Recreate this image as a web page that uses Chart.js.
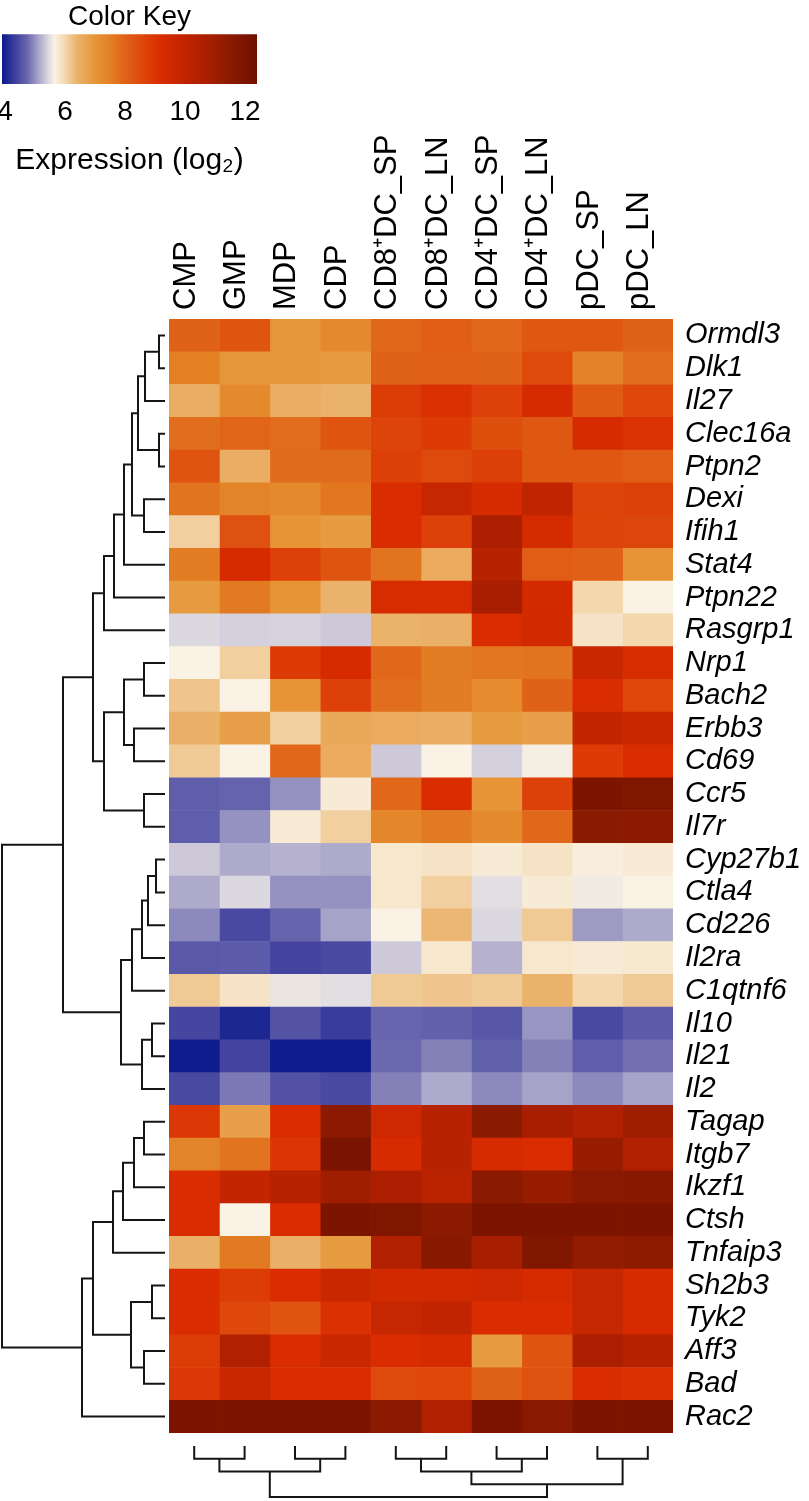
<!DOCTYPE html>
<html>
<head>
<meta charset="utf-8">
<script src="https://cdn.jsdelivr.net/npm/chart.js@4.4.1/dist/chart.umd.min.js"></script>
<style>
  body { margin: 0; background: #fff; }
  #wrap { position: relative; width: 809px; height: 1501px; overflow: hidden; }
  canvas { position: absolute; }
</style>
</head>
<body>
<div id="wrap">
  <canvas id="heat" width="809" height="1501" style="left:0;top:0"></canvas>
  <canvas id="rowTree" width="170" height="1134" style="left:0;top:309px"></canvas>
  <canvas id="colTree" width="520" height="61" style="left:161px;top:1440px"></canvas>
  <canvas id="key" width="300" height="185" style="left:0;top:0"></canvas>
</div>
<script>
// ---- data ----
var columns = ['CMP', 'GMP', 'MDP', 'CDP', 'CD8\u207ADC_SP', 'CD8\u207ADC_LN',
  'CD4\u207ADC_SP', 'CD4\u207ADC_LN', 'pDC_SP', 'pDC_LN'];

var genes = ['Ormdl3', 'Dlk1', 'Il27', 'Clec16a', 'Ptpn2', 'Dexi', 'Ifih1', 'Stat4',
  'Ptpn22', 'Rasgrp1', 'Nrp1', 'Bach2', 'Erbb3', 'Cd69', 'Ccr5', 'Il7r', 'Cyp27b1',
  'Ctla4', 'Cd226', 'Il2ra', 'C1qtnf6', 'Il10', 'Il21', 'Il2', 'Tagap', 'Itgb7',
  'Ikzf1', 'Ctsh', 'Tnfaip3', 'Sh2b3', 'Tyk2', 'Aff3', 'Bad', 'Rac2'];

// log2 expression, one row per gene, in column order
var expression = [
  [8.0, 8.3, 7.0, 7.3, 7.9, 8.1, 7.9, 8.2, 8.2, 8.0],
  [7.5, 7.0, 7.0, 6.9, 8.0, 8.05, 8.0, 8.5, 7.45, 7.8],
  [6.5, 7.3, 6.5, 6.4, 8.8, 9.1, 8.7, 9.3, 8.15, 8.55],
  [7.8, 7.95, 7.8, 8.3, 8.65, 8.85, 8.4, 8.2, 9.3, 9.05],
  [8.3, 6.5, 7.85, 7.85, 8.75, 8.5, 8.75, 8.2, 8.2, 8.1],
  [7.7, 7.4, 7.3, 7.65, 9.2, 9.8, 9.3, 10.0, 8.65, 8.7],
  [6.1, 8.35, 7.05, 6.9, 9.2, 8.7, 10.7, 9.35, 8.65, 8.6],
  [7.55, 9.3, 8.7, 8.3, 7.7, 6.55, 10.3, 8.1, 8.05, 7.05],
  [6.9, 7.6, 7.05, 6.4, 9.25, 9.25, 10.8, 9.4, 6.0, 5.65],
  [5.45, 5.4, 5.42, 5.35, 6.4, 6.45, 9.2, 9.45, 5.85, 6.0],
  [5.65, 6.1, 8.85, 9.3, 7.9, 7.55, 7.65, 7.7, 9.7, 9.25],
  [6.2, 5.65, 7.05, 8.7, 7.8, 7.55, 7.25, 8.0, 9.2, 8.55],
  [6.45, 6.8, 6.1, 6.6, 6.55, 6.5, 6.9, 6.8, 9.9, 9.7],
  [6.15, 5.65, 7.9, 6.55, 5.35, 5.65, 5.4, 5.62, 8.85, 9.2],
  [4.65, 4.7, 5.0, 5.75, 7.9, 9.2, 7.05, 8.7, 12.0, 11.9],
  [4.65, 5.0, 5.75, 6.1, 7.35, 7.6, 7.3, 7.9, 11.5, 11.45],
  [5.35, 5.15, 5.2, 5.15, 5.8, 5.85, 5.75, 5.85, 5.7, 5.75],
  [5.15, 5.45, 5.0, 5.0, 5.8, 6.1, 5.5, 5.75, 5.6, 5.65],
  [4.95, 4.45, 4.7, 5.1, 5.65, 6.35, 5.45, 6.15, 5.05, 5.15],
  [4.6, 4.62, 4.4, 4.45, 5.35, 5.8, 5.2, 5.8, 5.75, 5.78],
  [6.15, 5.85, 5.55, 5.5, 6.15, 6.2, 6.15, 6.4, 6.0, 6.15],
  [4.42, 4.05, 4.55, 4.3, 4.72, 4.68, 4.58, 5.02, 4.45, 4.62],
  [3.92, 4.4, 3.92, 3.92, 4.75, 4.9, 4.68, 4.9, 4.65, 4.8],
  [4.45, 4.85, 4.52, 4.45, 4.9, 5.15, 4.95, 5.1, 4.95, 5.1],
  [8.95, 6.8, 9.2, 11.45, 9.55, 10.3, 11.5, 10.8, 10.5, 11.0],
  [7.4, 7.7, 9.0, 12.05, 9.3, 10.3, 9.3, 9.2, 11.2, 10.5],
  [9.2, 9.9, 10.3, 11.0, 10.7, 10.2, 11.5, 11.2, 11.55, 11.6],
  [9.2, 5.65, 9.2, 12.0, 11.9, 11.45, 12.0, 12.0, 12.0, 12.0],
  [6.45, 7.6, 6.45, 6.9, 10.5, 11.6, 10.8, 11.8, 11.3, 11.4],
  [9.2, 8.8, 9.2, 9.7, 9.45, 9.45, 9.55, 9.3, 9.8, 9.3],
  [9.2, 8.55, 8.3, 9.1, 9.8, 10.0, 9.2, 9.2, 9.8, 9.3],
  [8.8, 10.5, 9.2, 9.7, 9.2, 9.3, 6.9, 8.3, 10.7, 10.3],
  [8.95, 9.7, 9.2, 9.2, 8.5, 8.55, 8.0, 8.35, 9.2, 9.1],
  [12.0, 12.0, 12.0, 12.0, 11.45, 10.5, 12.0, 11.55, 12.0, 12.0]
];

// hclust style merges: negative = leaf (1-based), positive = earlier merge; last = height
var rowMerges = [
  [-1, -2, 6], [1, -3, 20], [-4, -5, 6], [2, 3, 27], [-6, -7, 21], [4, 5, 33],
  [6, -8, 41], [7, -9, 51], [8, -10, 61], [-11, -12, 21], [-13, -14, 31], [10, 11, 41],
  [-15, -16, 21], [12, 13, 61], [9, 14, 72], [-17, -18, 9], [16, -19, 17], [17, -20, 23],
  [18, -21, 33], [-22, -23, 13], [20, -24, 23], [19, 21, 44], [15, 22, 102],
  [-25, -26, 21], [24, -27, 31], [25, -28, 42], [26, -29, 52], [-30, -31, 13],
  [-32, -33, 21], [28, 29, 34], [27, 30, 72], [31, -34, 83], [23, 32, 163]
];
var colMerges = [
  [-1, -2, 1], [-3, -4, 1], [1, 2, 2], [-5, -6, 1], [-7, -8, 1], [4, 5, 2],
  [-9, -10, 1], [6, 7, 3], [3, 8, 4]
];

var keyMin = 3.9, keyMax = 12.4;
var keyTicks = [4, 6, 8, 10, 12];

// ---- colour scale ----
var FONT = "'Liberation Sans', Arial, Helvetica, sans-serif";
var palette = [
  [3.9, [12, 26, 140]], [4.4, [68, 68, 160]], [4.75, [106, 104, 174]],
  [5.1, [166, 162, 200]], [5.45, [220, 216, 224]], [5.65, [250, 242, 228]],
  [6.0, [243, 216, 174]], [6.4, [235, 178, 108]], [7.0, [230, 150, 56]],
  [7.5, [227, 128, 36]], [8.0, [224, 98, 24]], [8.5, [222, 74, 12]],
  [9.2, [217, 44, 0]], [10.0, [192, 36, 0]], [10.8, [168, 30, 0]],
  [11.5, [138, 26, 0]], [12.4, [112, 16, 0]]
];
function colorFor(v) {
  if (v <= palette[0][0]) return 'rgb(' + palette[0][1].join(',') + ')';
  for (var i = 1; i < palette.length; i++) {
    if (v <= palette[i][0]) {
      var a = palette[i - 1], b = palette[i];
      var t = (v - a[0]) / (b[0] - a[0]);
      var c = a[1].map(function (x, k) { return Math.round(x + (b[1][k] - x) * t); });
      return 'rgb(' + c.join(',') + ')';
    }
  }
  return 'rgb(' + palette[palette.length - 1][1].join(',') + ')';
}

Chart.defaults.font.family = FONT;
Chart.defaults.color = '#000';
Chart.defaults.animation = false;
Chart.defaults.events = [];
Chart.defaults.plugins.legend.display = false;
Chart.defaults.plugins.tooltip.enabled = false;

// ---- heatmap ----
var heatSets = columns.map(function (col, c) {
  return {
    data: genes.map(function () { return [c, c + 1]; }),
    backgroundColor: genes.map(function (g, r) { return colorFor(expression[r][c]); }),
    borderWidth: 0,
    grouped: false,
    barPercentage: 1,
    categoryPercentage: 1
  };
});

new Chart(document.getElementById('heat'), {
  type: 'bar',
  data: { labels: genes, datasets: heatSets },
  options: {
    responsive: false,
    devicePixelRatio: 1,
    indexAxis: 'y',
    layout: { padding: { left: 169, top: 0, right: 0, bottom: 68 } },
    scales: {
      x: {
        type: 'linear', position: 'top', min: 0, max: columns.length,
        grid: { display: false, drawTicks: false }, border: { display: false },
        afterBuildTicks: function (s) {
          s.ticks = columns.map(function (_, i) { return { value: i + 0.5 }; });
        },
        afterFit: function (s) { s.height = 319; },
        ticks: {
          autoSkip: false, minRotation: 90, maxRotation: 90, padding: 9, labelOffset: 29,
          font: { size: 31 },
          callback: function (v) { return columns[Math.floor(v)]; }
        }
      },
      y: {
        type: 'category', position: 'right',
        grid: { display: false, drawTicks: false }, border: { display: false },
        afterFit: function (s) { s.width = 136; },
        ticks: { autoSkip: false, padding: 12, font: { size: 29, style: 'italic' } }
      }
    }
  }
});

// ---- dendrograms ----
function treeLinks(merges, horizontal) {
  var pos = [], hgt = [], sets = [];
  function get(id) {
    if (id < 0) return { p: -id - 1 + 0.5, h: 0 };
    return { p: pos[id - 1], h: hgt[id - 1] };
  }
  merges.forEach(function (m) {
    var a = get(m[0]), b = get(m[1]), h = m[2];
    pos.push((a.p + b.p) / 2);
    hgt.push(h);
    var pts = [[a.h, a.p], [h, a.p], [h, b.p], [b.h, b.p]];
    sets.push({
      data: pts.map(function (q) {
        return horizontal ? { x: q[0], y: q[1] } : { x: q[1], y: q[0] };
      }),
      showLine: true, borderColor: '#151515', borderWidth: 2,
      pointRadius: 0, clip: false, borderJoinStyle: 'miter'
    });
  });
  return sets;
}

new Chart(document.getElementById('rowTree'), {
  type: 'scatter',
  data: { datasets: treeLinks(rowMerges, true) },
  options: {
    responsive: false, devicePixelRatio: 1,
    layout: { padding: { left: 2, right: 5, top: 10, bottom: 10 } },
    scales: {
      x: { type: 'linear', display: false, min: 0, max: 163, reverse: true },
      y: { type: 'linear', display: false, min: 0, max: genes.length, reverse: true }
    }
  }
});

new Chart(document.getElementById('colTree'), {
  type: 'scatter',
  data: { datasets: treeLinks(colMerges, false) },
  options: {
    responsive: false, devicePixelRatio: 1,
    layout: { padding: { left: 8, right: 8, top: 6, bottom: 4 } },
    scales: {
      x: { type: 'linear', display: false, min: 0, max: columns.length },
      y: { type: 'linear', display: false, min: 0, max: 4, reverse: true }
    }
  }
});

// ---- colour key ----
new Chart(document.getElementById('key'), {
  type: 'bar',
  data: {
    labels: ['key'],
    datasets: [{
      data: [[keyMin, keyMax]],
      borderWidth: 0, barPercentage: 1, categoryPercentage: 1,
      backgroundColor: function (ctx) {
        var chart = ctx.chart, xs = chart.scales.x;
        if (!chart.chartArea || !xs) return '#ccc';
        var x0 = xs.getPixelForValue(keyMin), x1 = xs.getPixelForValue(keyMax);
        var g = chart.ctx.createLinearGradient(x0, 0, x1, 0);
        palette.forEach(function (s) {
          g.addColorStop(Math.max(0, Math.min(1, (s[0] - keyMin) / (keyMax - keyMin))),
            'rgb(' + s[1].join(',') + ')');
        });
        return g;
      }
    }]
  },
  options: {
    responsive: false, devicePixelRatio: 1,
    indexAxis: 'y',
    layout: { padding: { left: 2, right: 43, top: 0, bottom: 0 } },
    plugins: {
      title: {
        display: true, text: 'Color Key', color: '#000',
        font: { size: 28, weight: 'normal', lineHeight: 1.15 }, padding: { top: 1, bottom: 1 }
      }
    },
    scales: {
      y: { display: false },
      x: {
        type: 'linear', min: keyMin, max: keyMax,
        grid: { display: false, drawTicks: false }, border: { display: false },
        afterBuildTicks: function (s) {
          s.ticks = keyTicks.map(function (v) { return { value: v }; });
        },
        afterFit: function (s) { s.height = 101; s.paddingLeft = 0; s.paddingRight = 0; },
        ticks: { padding: 11, font: { size: 28 }, maxRotation: 0 },
        title: {
          display: true, text: 'Expression (log\u2082)', color: '#000',
          font: { size: 30 }, padding: { top: 6, bottom: 6 }
        }
      }
    }
  }
});
</script>
</body>
</html>
